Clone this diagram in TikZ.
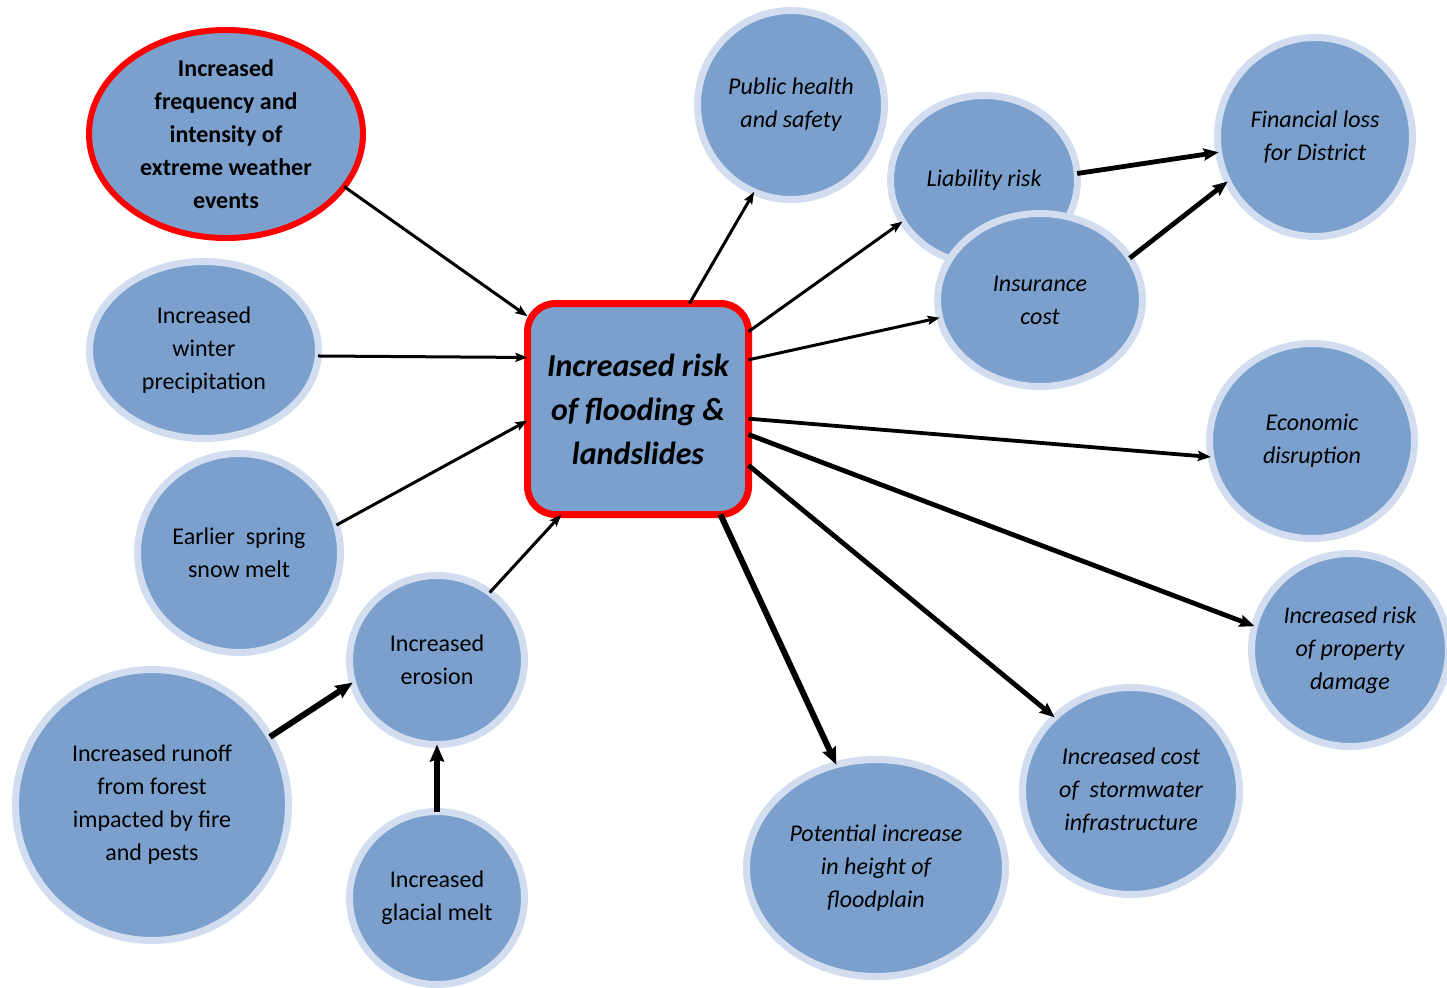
\documentclass[tikz,border=0pt]{standalone}
\usepackage{fontspec}
\setmainfont{Carlito}
\usetikzlibrary{shapes.geometric,arrows.meta}
\definecolor{nodeblue}{RGB}{123,160,205}
\definecolor{rimblue}{RGB}{210,222,239}
\definecolor{hotred}{RGB}{255,0,0}
\tikzset{
  bub/.style={ellipse, fill=nodeblue, draw=rimblue, line width=7pt, align=center, inner sep=0pt, outer sep=0pt,
    font=\fontsize{24}{33}\selectfont},
  bubi/.style={bub, font=\fontsize{24}{33}\selectfont\itshape},
  thinarr/.style={line width=3pt, -{Stealth[length=12pt,width=9pt,inset=2pt]}},
  medarr/.style={line width=3.8pt, -{Stealth[length=13pt,width=10pt,inset=2pt]}},
  thickarr/.style={line width=4.8pt, -{Stealth[length=15pt,width=12pt,inset=2pt]}},
  heavyarr/.style={line width=6pt, -{Stealth[length=17pt,width=14pt,inset=2pt]}}
}
\begin{document}
\begin{tikzpicture}[x=1pt,y=-1pt]
\useasboundingbox (0,0) rectangle (1447,987);
% left side
\node[bub, draw=hotred, line width=6pt, minimum width=274pt, minimum height=208pt, inner sep=-25pt,
  font=\fontsize{24}{33}\selectfont\bfseries] (weather) at (226,134)
  {Increased\\frequency and\\intensity of\\extreme weather\\events};
\node[bub, minimum width=229pt, minimum height=177pt] (winter) at (204,350) {Increased\\winter\\precipitation};
\node[bub, minimum width=203pt, minimum height=199pt] (snow) at (239,553) {Earlier~ spring\\snow melt};
\node[bub, minimum width=175pt, minimum height=169pt] (erosion) at (437,660) {Increased\\erosion};
\node[bub, minimum width=273pt, minimum height=271pt] (runoff) at (152,805) {Increased runoff\\from forest\\impacted by fire\\and pests};
\node[bub, minimum width=175pt, minimum height=173pt] (glacial) at (437,898) {Increased\\glacial melt};
% right side
\node[bubi, minimum width=187pt, minimum height=189pt] (health) at (791,105) {Public health\\and safety};
\node[bubi, minimum width=187pt, minimum height=169pt] (liability) at (984,180) {Liability risk};
\node[bubi, minimum width=205pt, minimum height=173pt] (insurance) at (1040,300) {Insurance\\cost};
\node[bubi, minimum width=195pt, minimum height=199pt] (financial) at (1315,137) {Financial loss\\for District};
\node[bubi, minimum width=205pt, minimum height=195pt] (economic) at (1312,441) {Economic\\disruption};
\node[bubi, minimum width=197pt, minimum height=193pt] (property) at (1350,650) {Increased risk\\of property\\damage};
\node[bubi, minimum width=217pt, minimum height=207pt] (storm) at (1131,791) {Increased cost\\of~ stormwater\\infrastructure};
\node[bubi, minimum width=259pt, minimum height=217pt] (flood) at (876,868) {Potential increase\\in height of\\floodplain};
% centre
\node[rectangle, rounded corners=28pt, fill=nodeblue, draw=hotred, line width=7pt, align=center,
  minimum width=221pt, minimum height=211pt, inner sep=0pt, outer sep=0pt,
  font=\fontsize{32}{44}\selectfont\bfseries\itshape] (risk) at (638,409)
  {Increased risk\\of flooding \&\\landslides};
% arrows in
\draw[thinarr] (weather.-24) -- (risk.140);
\draw[thinarr] (winter.-3) -- (risk.155);
\draw[thinarr] (snow.16) -- (risk.186.4);
\draw[thinarr] (erosion.52.6) -- (risk.234);
\draw[heavyarr] (runoff.30.8) -- (erosion.195.2);
\draw[heavyarr] (glacial.north) -- (erosion.south);
% arrows out
\draw[thinarr] (risk.64.9) -- (health.247.2);
\draw[thinarr] (risk.35.6) -- (liability.207.4);
\draw[thinarr] (risk.24.6) -- (insurance.190.7);
\draw[thickarr] (liability.4.8) -- (financial.189.5);
\draw[thickarr] (insurance.25.6) -- (financial.207.8);
\draw[medarr] (risk.-5.3) -- (economic.189.9);
\draw[thickarr] (risk.-13.8) -- (property.166.2);
\draw[thickarr] (risk.-27.3) -- (storm.136.1);
\draw[heavyarr] (risk.-52.2) -- (flood.111.6);
\end{tikzpicture}
\end{document}
